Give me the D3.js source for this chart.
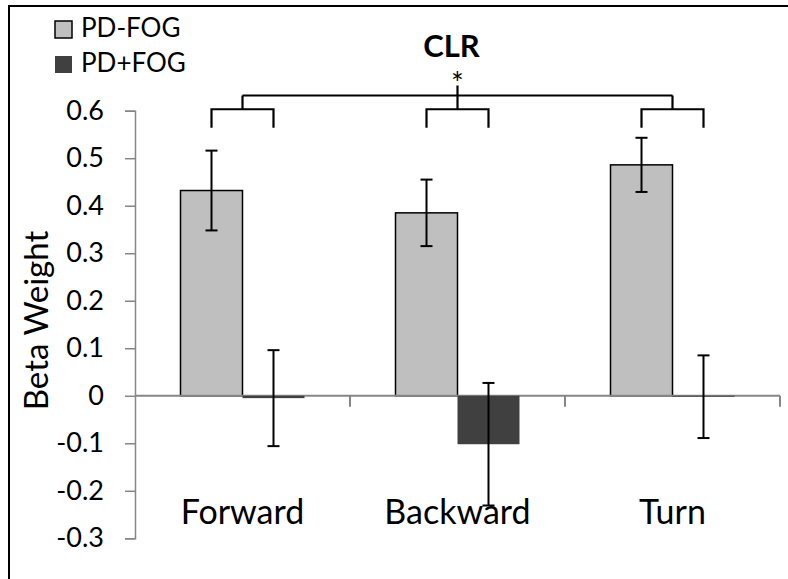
<!DOCTYPE html>
<html>
<head>
<meta charset="utf-8">
<script src="https://cdn.jsdelivr.net/npm/d3@7"></script>
<style>
    body { margin: 0; background: #fff; }
    #chart { width: 788px; height: 579px; }
    text { font-family: Lato, "Open Sans", sans-serif; fill: #000; }
</style>
</head>
<body>
<div id="chart"></div>
<script>
// values
const categories = ["Forward", "Backward", "Turn"];
const groups = ["PD-FOG", "PD+FOG"];
const pdNoFog = [0.432, 0.385, 0.486];
const pdNoFogErr = [0.084, 0.070, 0.057];
const pdFog = [-0.005, -0.102, -0.002];
const pdFogErr = [0.101, 0.129, 0.087];
const yTicks = [-0.3, -0.2, -0.1, 0, 0.1, 0.2, 0.3, 0.4, 0.5, 0.6];
const colors = ["#bfbfbf", "#404040"];

class BetaWeightChart {
    constructor(parentElement) {
        this.parentElement = parentElement;
        this.initVis();
    }

    initVis() {
        let vis = this;
        vis.width = 788;
        vis.height = 579;
        vis.margin = {top: 110.7, right: 8, bottom: 40.7, left: 135};

        vis.svg = d3.select("#" + vis.parentElement).append("svg")
            .attr("width", vis.width)
            .attr("height", vis.height);

        // outer frame (only top and left edges are inside the picture)
        vis.svg.append("rect")
            .attr("x", 9).attr("y", 6)
            .attr("width", 820).attr("height", 620)
            .attr("fill", "none")
            .attr("stroke", "#000")
            .attr("stroke-width", 2);

        vis.updateVis();
    }

    updateVis() {
        let vis = this;

        let x0 = d3.scaleBand()
            .domain(categories)
            .range([vis.margin.left, 780]);

        let x1 = d3.scaleBand()
            .domain(groups)
            .range([0, x0.bandwidth()])
            .paddingOuter(0.734);

        let y = d3.scaleLinear()
            .domain([-0.3, 0.6])
            .range([vis.height - vis.margin.bottom, vis.margin.top]);

        // y axis
        let yAxis = vis.svg.append("g")
            .attr("class", "y_axis")
            .attr("transform", `translate(${vis.margin.left}, 0)`)
            .call(d3.axisLeft(y).tickValues(yTicks).tickSize(10).tickPadding(21)
                .tickFormat(d => d === 0 ? "0" : d3.format(".1f")(d).replace("\u2212", "-")));
        yAxis.select(".domain").attr("stroke", "#868686").attr("stroke-width", 1.5);
        yAxis.selectAll(".tick line").attr("stroke", "#868686").attr("stroke-width", 1.5);
        yAxis.selectAll(".tick text")
            .style("font-size", "27px")
            .style("font-family", "Lato, sans-serif")
            .attr("fill", "#000");

        vis.svg.append("text")
            .attr("text-anchor", "middle")
            .attr("transform", `translate(48, ${(y(0.6) + y(-0.3)) / 2 - 4}) rotate(-90)`)
            .style("font-size", "33px")
            .text("Beta Weight");

        let rows = categories.map((c, i) => [
            {key: c, group: groups[0], value: pdNoFog[i], err: pdNoFogErr[i], color: colors[0]},
            {key: c, group: groups[1], value: pdFog[i], err: pdFogErr[i], color: colors[1]}
        ]).flat();

        // bars
        vis.svg.selectAll(".bars")
            .data(rows)
            .enter()
            .append("rect")
            .attr("class", "bars")
            .attr("x", d => x0(d.key) + x1(d.group))
            .attr("y", d => y(Math.max(0, d.value)))
            .attr("width", x1.bandwidth())
            .attr("height", d => Math.abs(y(d.value) - y(0)))
            .attr("fill", d => d.color)
            .attr("stroke", d => d.group === groups[0] ? "#000" : "none")
            .attr("stroke-width", 1.5);

        // x axis at zero
        let xAxis = vis.svg.append("g").attr("class", "x_axis");
        xAxis.append("line")
            .attr("x1", x0.range()[0]).attr("x2", x0.range()[1])
            .attr("y1", y(0)).attr("y2", y(0))
            .attr("stroke", "#868686").attr("stroke-width", 2);
        xAxis.selectAll(".xtick")
            .data(categories)
            .enter()
            .append("line")
            .attr("x1", d => x0(d) + x0.step()).attr("x2", d => x0(d) + x0.step())
            .attr("y1", y(0)).attr("y2", y(0) + 11)
            .attr("stroke", "#868686").attr("stroke-width", 2);

        // negative bars drawn over the zero line
        vis.svg.selectAll(".bars").filter(d => d.group === groups[1]).raise();

        // error bars
        let capW = 12;
        let cx = d => x0(d.key) + x1(d.group) + x1.bandwidth() / 2;
        let eb = vis.svg.selectAll(".errBars")
            .data(rows)
            .enter()
            .append("g")
            .attr("class", "errBars")
            .attr("stroke", "#000")
            .attr("stroke-width", 2);
        eb.append("line")
            .attr("x1", cx).attr("x2", cx)
            .attr("y1", d => y(d.value + d.err))
            .attr("y2", d => y(d.value - d.err));
        eb.append("line")
            .attr("x1", d => cx(d) - capW / 2).attr("x2", d => cx(d) + capW / 2)
            .attr("y1", d => y(d.value + d.err))
            .attr("y2", d => y(d.value + d.err));
        eb.append("line")
            .attr("x1", d => cx(d) - capW / 2).attr("x2", d => cx(d) + capW / 2)
            .attr("y1", d => y(d.value - d.err))
            .attr("y2", d => y(d.value - d.err));

        // category labels
        vis.svg.selectAll(".catLabels")
            .data(categories)
            .enter()
            .append("text")
            .attr("class", "catLabels")
            .attr("text-anchor", "middle")
            .attr("x", d => x0(d) + x0.bandwidth() / 2)
            .attr("y", 524)
            .style("font-size", "34px")
            .text(d => d);

        // significance brackets
        let mid = d => x0(d) + x0.bandwidth() / 2;
        let legL = d => x0(d) + x1(groups[0]) + x1.bandwidth() / 2;
        let legR = d => x0(d) + x1(groups[1]) + x1.bandwidth() / 2;
        let br = vis.svg.append("g")
            .attr("fill", "none")
            .attr("stroke", "#000")
            .attr("stroke-width", 2.2);
        br.selectAll(".sub")
            .data(categories)
            .enter()
            .append("path")
            .attr("d", d => `M${legL(d)},${y(0.564)}V${y(0.603)}H${legR(d)}V${y(0.564)}M${mid(d)},${y(0.603)}V${y(0.632)}`);
        br.append("path")
            .attr("d", `M${mid(categories[0])},${y(0.632)}H${mid(categories[2])}M${mid(categories[1])},${y(0.632)}V${y(0.653)}`);

        vis.svg.append("text")
            .attr("text-anchor", "middle")
            .attr("x", mid(categories[1]))
            .attr("y", 94)
            .style("font-size", "30px")
            .text("*");

        vis.svg.append("text")
            .attr("text-anchor", "middle")
            .attr("x", mid(categories[1]) - 6)
            .attr("y", 57)
            .style("font-size", "31px")
            .style("font-weight", "bold")
            .text("CLR");

        // legend
        let legend = vis.svg.selectAll(".legend")
            .data(groups)
            .enter()
            .append("g")
            .attr("class", "legend")
            .attr("transform", (d, i) => `translate(55, ${21 + i * 35})`);
        legend.append("rect")
            .attr("width", 17).attr("height", 17)
            .attr("fill", (d, i) => colors[i])
            .attr("stroke", (d, i) => i === 0 ? "#000" : "none")
            .attr("stroke-width", 1.5);
        legend.append("text")
            .attr("x", 26)
            .attr("y", 16)
            .style("font-size", "26px")
            .text(d => d);
    }
}

new BetaWeightChart("chart");
</script>
</body>
</html>
